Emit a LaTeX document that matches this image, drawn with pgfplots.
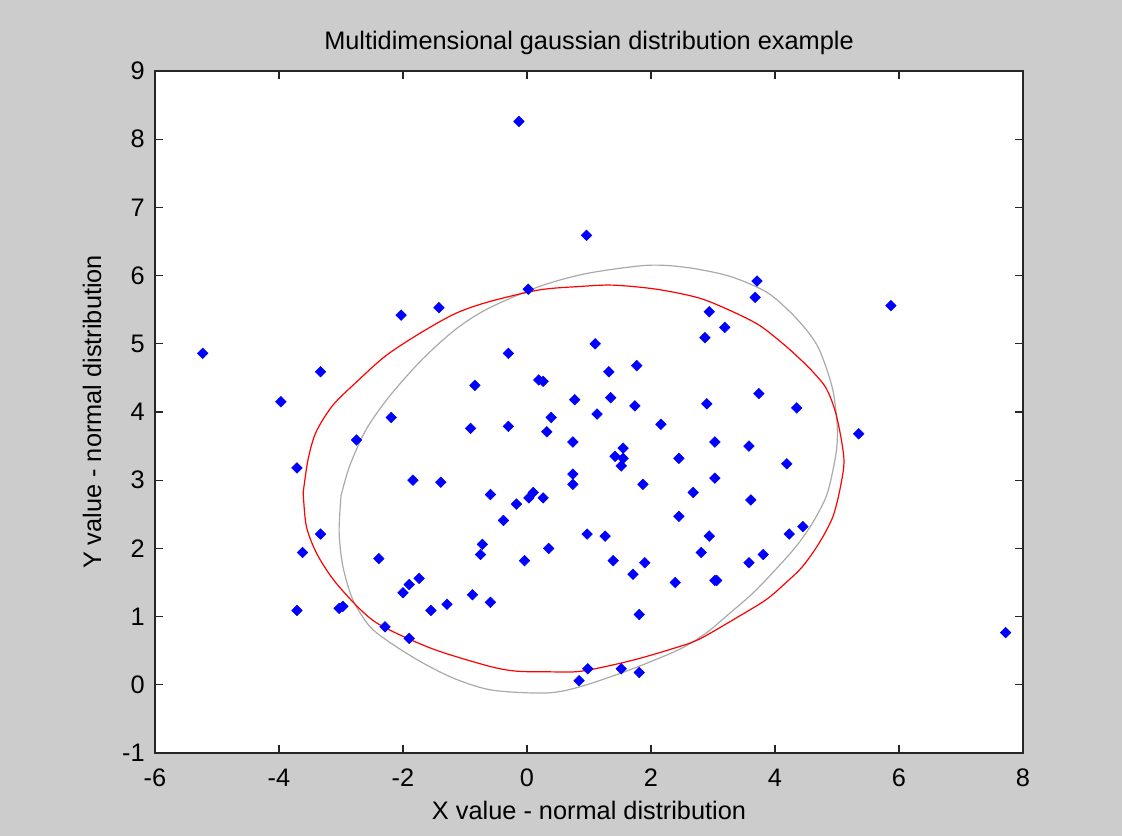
\documentclass[border=0pt]{standalone}
\usepackage{pgfplots}
\pgfplotsset{compat=1.18}
\usepackage{fontspec}
\setmainfont{Liberation Sans}
\definecolor{figbg}{RGB}{204,204,204}
\definecolor{ellgray}{RGB}{170,170,170}
\definecolor{axline}{RGB}{38,38,38}
\begin{document}
\begin{tikzpicture}
\fill[figbg] (-116.25pt,-62.25pt) rectangle (725.25pt,564.75pt);
\begin{axis}[
  at={(0pt,0pt)}, anchor=south west,
  scale only axis, width=651pt, height=511.5pt,
  xmin=-6, xmax=8, ymin=-1, ymax=9,
  xtick={-6,-4,...,8}, ytick={-1,0,...,9},
  axis background/.style={fill=white},
  axis line style={axline, line width=0.9pt},
  tick style={axline, line width=0.9pt},
  tick align=inside, major tick length=6pt,
  font=\fontsize{19}{22}\selectfont,
  /pgf/number format/assume math mode=true,
  xticklabel style={anchor=base, yshift=-24.75pt, inner sep=0pt},
  yticklabel style={anchor=east, xshift=-7.5pt, inner sep=0pt},
  every axis title/.style={at={(axis description cs:0.5,1.0308)}, anchor=base},
  every axis x label/.style={at={(axis description cs:0.5,-0.0982)}, anchor=base},
  every axis y label/.style={at={(axis description cs:-0.0622,0.5)}, rotate=90, anchor=base},
  title={Multidimensional gaussian distribution example},
  xlabel={X value - normal distribution},
  ylabel={Y value - normal distribution},
]
\addplot[only marks, mark=square*, color=blue, mark size=2.8pt, mark options={rotate=45, fill=blue, draw=blue}] coordinates {
(-0.13,8.26) (0.96,6.59) (0.02,5.80) (-1.42,5.53) (-2.03,5.42) (-5.23,4.86) (-0.30,4.86) (-3.33,4.59) (-0.84,4.39) (0.19,4.47)
(0.26,4.45) (0.77,4.18) (-3.97,4.15) (-2.19,3.92) (0.39,3.92) (-0.91,3.76) (-0.30,3.79) (0.32,3.71) (0.74,3.56) (-2.75,3.59)
(-3.71,3.18) (-1.84,3.00) (-1.39,2.97) (0.74,3.09) (0.74,2.94) (-0.59,2.79) (-0.17,2.65) (0.03,2.74) (0.10,2.82) (0.26,2.74)
(-0.38,2.41) (0.97,2.21) (-3.33,2.21) (-0.72,2.06) (-0.75,1.91) (0.35,2.00) (-3.62,1.94) (-2.39,1.85) (-0.04,1.82) (-1.74,1.56)
(-1.90,1.47) (-2.00,1.35) (-0.88,1.32) (-0.59,1.21) (-1.29,1.18) (-1.55,1.09) (-3.71,1.09) (-3.03,1.12) (-2.97,1.15) (-2.29,0.85)
(-1.90,0.68) (0.98,0.235) (0.84,0.06) (3.71,5.92) (3.68,5.68) (5.87,5.56) (2.94,5.47) (3.19,5.24) (2.87,5.09) (1.10,5.00)
(1.77,4.68) (1.32,4.59) (3.74,4.27) (1.35,4.21) (2.90,4.12) (1.74,4.09) (4.35,4.06) (1.13,3.97) (2.16,3.82) (5.35,3.68)
(3.03,3.56) (3.58,3.50) (1.55,3.47) (1.42,3.35) (1.55,3.32) (1.52,3.21) (2.45,3.32) (4.19,3.24) (3.03,3.03) (1.87,2.94)
(2.68,2.82) (3.61,2.71) (2.45,2.47) (4.45,2.32) (1.26,2.18) (2.94,2.18) (4.23,2.21) (2.81,1.94) (3.81,1.91) (1.39,1.82)
(1.90,1.79) (3.58,1.79) (1.71,1.62) (2.39,1.50) (3.03,1.53) (3.06,1.53) (1.81,1.03) (7.72,0.765) (1.52,0.235) (1.81,0.18)
};
\addplot[ellgray, line width=0.9pt, smooth, tension=0.5] coordinates {
(-3.0,2.77) (-2.86,3.21) (-2.59,3.75) (-2.21,4.24) (-1.68,4.78) (-1.14,5.22) (-0.62,5.52) (0.20,5.84) (0.96,6.03) (1.93,6.15)
(2.57,6.12) (3.27,5.99) (3.86,5.76) (4.24,5.47) (4.51,5.20) (4.69,4.96) (4.83,4.64) (4.94,4.29) (5.0,3.85) (5.0,3.51)
(4.94,3.17) (4.83,2.77) (4.61,2.38) (4.35,2.04) (4.02,1.70) (3.65,1.35) (3.22,1.01) (2.89,0.76) (2.46,0.52) (1.66,0.22)
(0.85,-0.03) (0.31,-0.12) (-0.55,-0.08) (-1.14,0.08) (-1.68,0.32) (-2.21,0.62) (-2.54,0.86) (-2.81,1.25) (-2.97,1.74) (-3.03,2.24)
(-3.0,2.77)
};
\addplot[red, line width=0.9pt, smooth, tension=0.5] coordinates {
(-3.61,2.82) (-3.53,3.31) (-3.40,3.71) (-3.13,4.10) (-2.75,4.44) (-2.27,4.83) (-1.68,5.18) (-1.14,5.45) (-0.60,5.62) (0.20,5.79)
(0.85,5.84) (1.39,5.86) (2.09,5.80) (2.78,5.67) (3.32,5.47) (3.75,5.27) (4.13,5.0) (4.40,4.78) (4.61,4.59) (4.83,4.34)
(4.99,3.95) (5.11,3.34) (5.07,2.97) (4.94,2.48) (4.72,2.09) (4.45,1.74) (4.18,1.50) (3.86,1.25) (3.43,1.01) (2.78,0.67)
(2.35,0.53) (1.66,0.35) (0.88,0.20) (0.37,0.19) (-0.17,0.20) (-0.60,0.27) (-1.41,0.49) (-1.95,0.69) (-2.43,0.91) (-2.75,1.16)
(-3.13,1.55) (-3.40,1.94) (-3.56,2.33) (-3.61,2.82)
};
\end{axis}
\pgfresetboundingbox
\path (-116.25pt,-62.25pt) rectangle (725.25pt,564.75pt);
\end{tikzpicture}
\end{document}
